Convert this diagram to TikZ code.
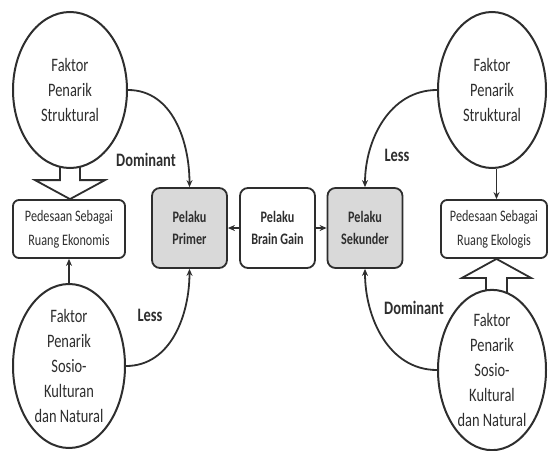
\documentclass[tikz,border=0pt]{standalone}
\usepackage{fontspec}
\setmainfont[FakeStretch=0.76]{Carlito}
\usetikzlibrary{shapes.geometric,arrows.meta,backgrounds,calc}
\definecolor{ink}{HTML}{2E2E2E}
\definecolor{boxgray}{HTML}{D9D9D9}
\tikzset{
  factor/.style={ellipse, draw=ink, line width=2pt, fill=white, inner sep=0pt,
    align=center, text=ink, font=\fontsize{19}{25}\selectfont},
  areabox/.style={rectangle, rounded corners=6pt, draw=ink, line width=1.8pt, fill=white,
    align=center, text=ink, inner sep=0pt, minimum height=58pt, font=\fontsize{16}{24}\selectfont},
  actor/.style={rectangle, rounded corners=8pt, draw=ink, line width=1.8pt,
    align=center, text=ink, inner sep=0pt, minimum width=75pt, minimum height=80pt,
    font=\bfseries\fontsize{16}{22}\selectfont},
  flow/.style={draw=ink, line width=1.8pt, -{Stealth[length=7pt,width=6pt]}},
  fat/.style={draw=ink, line width=1.8pt, fill=white, line join=miter},
  weight/.style={text=ink, font=\bfseries\fontsize{19}{22}\selectfont}
}
\begin{document}
\begin{tikzpicture}[x=1pt,y=-1pt]
  \useasboundingbox (0,0) rectangle (549,450);

  % pull factors
  \node[factor, minimum width=114pt, minimum height=156pt] (sl) at (70,90) {Faktor\\Penarik\\Struktural};
  \node[factor, minimum width=108pt, minimum height=156pt] (sr) at (492,90) {Faktor\\Penarik\\Struktural};
  \node[factor, minimum width=112pt, minimum height=164pt] (kl) at (69,366) {Faktor\\Penarik\\Sosio-\\Kulturan\\dan Natural};
  \node[factor, minimum width=108pt, minimum height=158pt] (kr) at (492,370) {Faktor\\Penarik\\Sosio-\\Kultural\\dan Natural};

  % rural spaces
  \node[areabox, minimum width=112pt] (ekon) at (69,229) {Pedesaan Sebagai\\Ruang Ekonomis};
  \node[areabox, minimum width=106pt] (ekol) at (494,229) {Pedesaan Sebagai\\Ruang Ekologis};

  % actors
  \node[actor, fill=boxgray] (prim) at (189.5,228) {Pelaku\\Primer};
  \node[actor, fill=white] (bg) at (277.5,228) {Pelaku\\Brain Gain};
  \node[actor, fill=boxgray] (sek) at (365,228) {Pelaku\\Sekunder};

  % block arrows, behind the ellipses
  \begin{scope}[on background layer]
    \coordinate (tl) at (ekon.north -| sl.south);
    \draw[fat] (tl) -- ++(-35,-19) -- ++(25,0) -- ++(0,-22) -- ++(20,0) -- ++(0,22) -- ++(25,0) -- cycle;
    \coordinate (tr) at ($(ekol.south)+(2.5,0)$);
    \draw[fat] (tr) -- ++(-34.5,19) -- ++(24,0) -- ++(0,22) -- ++(21,0) -- ++(0,-22) -- ++(24,0) -- cycle;
  \end{scope}

  % thin links
  \draw[flow] (sr.south -| tr) -- (ekol.north -| tr);
  \draw[flow] (kl.north) -- (ekon.south -| kl.north);
  \draw[flow] (bg.west) -- (prim.east);
  \draw[flow] (bg.east) -- (sek.west);

  % influence curves
  \draw[flow] (sl.east) to[out=0,in=90] (prim.north);
  \draw[flow] (kl.east) to[out=0,in=-90] (prim.south);
  \draw[flow] (sr.west) to[out=180,in=90] (sek.north);
  \draw[flow] (kr.west) to[out=180,in=-90] (sek.south);

  \node[weight] (d1) at (146,160) {Dominant};
  \node[weight] (l1) at (150,315) {Less};
  \node[weight] (l2) at (397,155) {Less};
  \node[weight] (d2) at (414,308) {Dominant};
\end{tikzpicture}
\end{document}
